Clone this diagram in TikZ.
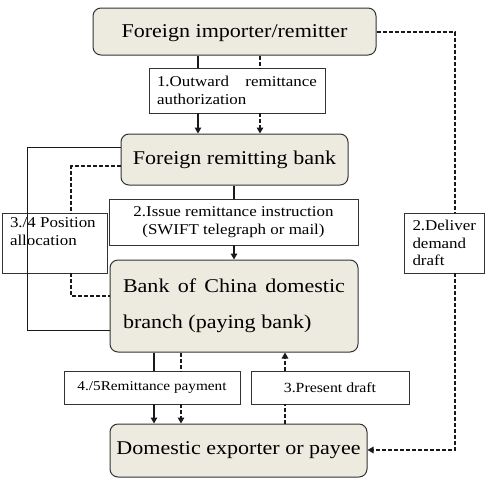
\documentclass[tikz,border=0pt]{standalone}
\usepackage{fontspec}
\setmainfont[FakeStretch=1.13]{Liberation Serif}
\usetikzlibrary{arrows.meta}
\definecolor{boxfill}{HTML}{EDEBE0}
\definecolor{edge}{HTML}{333333}
\begin{document}
\begin{tikzpicture}[x=1pt,y=-1pt,
  bigbox/.style={draw=edge,line width=1pt,fill=boxfill,rounded corners=8pt,inner sep=0pt,
     font=\fontsize{19.5}{36}\selectfont},
  lab/.style={draw=edge,line width=0.9pt,fill=white,inner sep=0pt,
     font=\fontsize{15}{17.5}\selectfont},
  conn/.style={line width=1.5pt,draw=black!90},
  thin/.style={line width=1pt,draw=black!90},
  dsh/.style={conn,dash pattern=on 4pt off 2pt},
  thindsh/.style={thin,dash pattern=on 4pt off 2pt},
  tip/.style={-{Triangle[length=6pt,width=6.5pt]}}
]
\useasboundingbox (0,0) rectangle (500,485);

% main boxes
\node[bigbox,minimum width=283pt,minimum height=47pt,text depth=0pt] (imp) at (234.5,31.5) {Foreign importer/remitter};
\node[bigbox,minimum width=227pt,minimum height=51pt] (frb) at (234.5,159.5) {Foreign remitting bank};
\node[bigbox,minimum width=248pt,minimum height=92pt,align=left] (boc) at (234,306)
  {\makebox[222pt][s]{Bank of China domestic}\\\makebox[222pt][l]{branch (paying bank)}};
\node[bigbox,minimum width=257pt,minimum height=53pt] (dom) at (238.5,450.5) {Domestic exporter or payee};

% label boxes
\node[lab,minimum width=176pt,minimum height=45pt,align=left] (l1) at (237,90.5)
  {\makebox[160pt][s]{1.Outward remittance}\\\makebox[160pt][l]{authorization}};
\node[lab,minimum width=249pt,minimum height=46pt,align=center] (l2) at (233.5,222)
  {2.Issue remittance instruction\\(SWIFT telegraph or mail)};
\node[lab,minimum width=105pt,minimum height=60pt,align=left] (l34) at (54.5,243)
  {\makebox[89pt][l]{3./4 Position}\\\makebox[89pt][l]{allocation}\\\makebox[89pt][l]{\strut}};
\node[lab,minimum width=80pt,minimum height=60pt,align=left] (ldd) at (444,243)
  {\makebox[63pt][l]{2.Deliver}\\\makebox[63pt][l]{demand}\\\makebox[63pt][l]{draft}};
\node[lab,minimum width=176pt,minimum height=33pt,font=\fontsize{13.5}{16}\selectfont] (l45) at (152,387.5) {4./5Remittance payment};
\node[lab,minimum width=158pt,minimum height=33pt,font=\fontsize{14}{16}\selectfont] (lpd) at (330,387.5) {3.Present draft};

% helper coordinates
\coordinate (xa) at (198,0);
\coordinate (xb) at (260,0);
\coordinate (xc) at (234,0);
\coordinate (xl) at (27.5,0);
\coordinate (xd) at (71,0);
\coordinate (xe) at (455,0);
\coordinate (xf) at (154,0);
\coordinate (xg) at (181,0);
\coordinate (xh) at (285,0);
\coordinate (ya) at (0,147.5);
\coordinate (yb) at (0,330.5);
\coordinate (yc) at (0,166);
\coordinate (yd) at (0,296);
\coordinate (ye) at (0,32);
\coordinate (yf) at (0,450);

% importer -> remitting bank
\draw[conn] (imp.south -| xa) -- (l1.north -| xa);
\draw[conn,tip] (l1.south -| xa) -- (frb.north -| xa);
\draw[dsh] (imp.south -| xb) -- (l1.north -| xb);
\draw[dsh,tip] (l1.south -| xb) -- (frb.north -| xb);

% remitting bank -> BOC
\draw[conn] (frb.south -| xc) -- (l2.north -| xc);
\draw[conn,tip] (l2.south -| xc) -- (boc.north -| xc);

% position allocation
\draw[thin] (frb.west |- ya) -| (xl |- yb) -- (boc.west |- yb);
\draw[dsh] (frb.west |- yc) -| (l34.north -| xd);
\draw[dsh] (l34.south -| xd) |- (boc.west |- yd);

% deliver demand draft
\draw[dsh] (imp.east |- ye) -| (ldd.north -| xe);
\draw[dsh,tip] (ldd.south -| xe) |- (dom.east |- yf);

% remittance payment
\draw[conn] (boc.south -| xf) -- (l45.north -| xf);
\draw[conn,tip] (l45.south -| xf) -- (dom.north -| xf);
\draw[dsh] (boc.south -| xg) -- (l45.north -| xg);
\draw[dsh,tip] (l45.south -| xg) -- (dom.north -| xg);

% present draft
\draw[dsh] (dom.north -| xh) -- (lpd.south -| xh);
\draw[dsh,tip] (lpd.north -| xh) -- (boc.south -| xh);
\end{tikzpicture}
\end{document}
